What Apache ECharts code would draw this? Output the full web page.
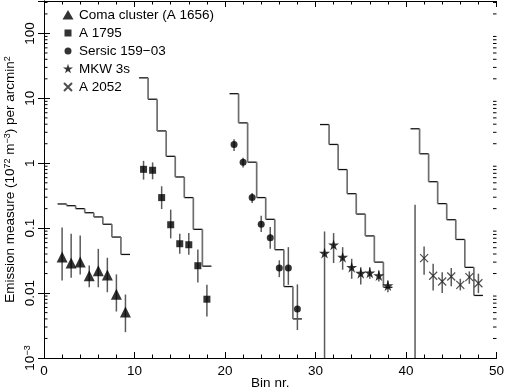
<!DOCTYPE html>
<html>
<head>
<meta charset="utf-8">
<script src="https://cdn.jsdelivr.net/npm/echarts@6/dist/echarts.min.js"></script>
<style>
html, body { margin: 0; padding: 0; background: #fff; }
#chart { width: 505px; height: 389px; }
</style>
</head>
<body>
<div id="chart"></div>
<script>
// values (emission measure, 10^72 m^-3 per arcmin^2)
const comaBins = [2, 3, 4, 5, 6, 7, 8, 9];
const comaVal = [0.036, 0.029, 0.030, 0.0185, 0.022, 0.019, 0.0096, 0.0051];
const comaLo = [0.0156, 0.0172, 0.0194, 0.0123, 0.0123, 0.0103, 0.0052, 0.0025];
const comaHi = [0.102, 0.082, 0.077, 0.0267, 0.048, 0.035, 0.0194, 0.0095];
const comaModel = [0.236, 0.222, 0.200, 0.173, 0.149, 0.115, 0.073, 0.0394];

const a1795Bins = [11, 12, 13, 14, 15, 16, 17, 18];
const a1795Val = [0.807, 0.78, 0.296, 0.113, 0.0576, 0.0556, 0.0264, 0.00805];
const a1795Lo = [0.56, 0.566, 0.197, 0.0696, 0.0404, 0.039, 0.0146, 0.00435];
const a1795Hi = [1.09, 1.03, 0.442, 0.193, 0.082, 0.084, 0.047, 0.0134];
const a1795Model = [20.7, 9.7, 3.15, 1.28, 0.615, 0.296, 0.096, 0.026];

const sersicBins = [21, 22, 23, 24, 25, 26, 27, 28];
const sersicVal = [1.94, 1.04, 0.296, 0.115, 0.0714, 0.0244, 0.0244, 0.0057];
const sersicLo = [1.55, 0.86, 0.244, 0.087, 0.0483, 0.0176, 0.0134, 0.0027];
const sersicHi = [2.35, 1.22, 0.348, 0.156, 0.104, 0.032, 0.051, 0.0136];
const sersicModel = [11.8, 4.19, 1.04, 0.296, 0.137, 0.0466, 0.0126, 0.0040];

const mkwBins = [31, 32, 33, 34, 35, 36, 37, 38];
const mkwVal = [0.0413, 0.0556, 0.0358, 0.0251, 0.0203, 0.0206, 0.0187, 0.0131];
const mkwLo = [0.001, 0.029, 0.0229, 0.0166, 0.0136, 0.0166, 0.0151, 0.0103];
const mkwHi = [0.089, 0.084, 0.051, 0.0338, 0.0251, 0.0251, 0.0222, 0.0156];
const mkwModel = [3.95, 1.95, 0.80, 0.34, 0.165, 0.076, 0.030, 0.0123];

const a2052Bins = [41, 42, 43, 44, 45, 46, 47, 48];
const a2052Val = [null, 0.0346, 0.0185, 0.0151, 0.018, 0.0134, 0.0176, 0.0142];
const a2052Lo = [0.001, 0.0192, 0.011, 0.010, 0.0128, 0.011, 0.0139, 0.010];
const a2052Hi = [0.23, 0.0524, 0.0283, 0.021, 0.0243, 0.0166, 0.0216, 0.0199];
const a2052Model = [3.4, 1.40, 0.52, 0.239, 0.135, 0.067, 0.0249, 0.0092];

const yTickValues = [0.001, 0.01, 0.1, 1, 10, 100];
const yTickLabels = ['{n|10}{sup|−3}', '0.01', '0.1', '1', '10', '100'];

const starPath = 'path://M50,0L61,35L98,35L68,57L79,91L50,70L21,91L32,57L2,35L39,35Z';
const crossPath = 'path://M0,0L10,10M10,0L0,10';

// legend icons: the leading moves pad the 12x12 box so the marks keep their own size
const legendIcons = [
    'path://M0,0M12,12M0.5,10.5L6,1L11.5,10.5Z',
    'path://M0,0M12,12M2.5,2.5L9.5,2.5L9.5,9.5L2.5,9.5Z',
    'path://M0,0M12,12M9.5,6A3.5,3.5,0,1,1,2.5,6A3.5,3.5,0,1,1,9.5,6Z',
    'path://M-8,-8M108,108M50,0L61,35L98,35L68,57L79,91L50,70L21,91L32,57L2,35L39,35Z',
    'path://M0,0M12,12M2,2L10,10M10,2L2,10'
];

const font = 'Liberation Sans';

const chart = echarts.init(document.getElementById('chart'));

function points(bins, vals) {
    const out = [];
    bins.forEach((b, i) => { if (vals[i] != null) out.push([b, vals[i]]); });
    return out;
}
function bars(bins, lo, hi) {
    return bins.map((b, i) => [b, lo[i], hi[i]]);
}
function steps(bins, model) {
    return bins.map((b, i) => [b, model[i], i > 0 ? model[i - 1] : 0]);
}

function renderStep(params, api) {
    const x = api.value(0), v = api.value(1), prev = api.value(2);
    const a = api.coord([x - 0.5, v]);
    const b = api.coord([x + 0.5, v]);
    const kids = [{
        type: 'line',
        shape: { x1: a[0], y1: a[1], x2: b[0], y2: b[1] },
        style: { stroke: '#111', lineWidth: 1.3 }
    }];
    if (prev > 0) {
        const p = api.coord([x - 0.5, prev]);
        kids.push({
            type: 'line',
            shape: { x1: p[0], y1: p[1], x2: a[0], y2: a[1] },
            style: { stroke: '#6e6e6e', lineWidth: 1.7 }
        });
    }
    return { type: 'group', children: kids };
}

function renderBar(params, api) {
    const x = api.value(0);
    const lo = api.coord([x, api.value(1)]);
    const hi = api.coord([x, api.value(2)]);
    return {
        type: 'line',
        shape: { x1: lo[0], y1: lo[1], x2: hi[0], y2: hi[1] },
        style: { stroke: '#5a5a5a', lineWidth: 1.5 }
    };
}

// log minor ticks at 2..9 of every decade, drawn on both side frames
const minorVals = [];
for (let k = -3; k <= 2; k++) {
    for (let m = 2; m <= 9; m++) {
        const v = m * Math.pow(10, k);
        if (v < 316) minorVals.push([v]);
    }
}
function renderMinor(params, api) {
    const v = api.value(0);
    const l = api.coord([0, v]);
    const r = api.coord([50, v]);
    return {
        type: 'group',
        children: [
            { type: 'line', shape: { x1: l[0], y1: l[1], x2: l[0] + 3.5, y2: l[1] }, style: { stroke: '#000', lineWidth: 1 } },
            { type: 'line', shape: { x1: r[0] - 3.5, y1: r[1], x2: r[0], y2: r[1] }, style: { stroke: '#000', lineWidth: 1 } }
        ]
    };
}

const groups = [
    { name: 'Coma cluster (A 1656)', symbol: 'triangle', size: 11, bins: comaBins, val: comaVal, lo: comaLo, hi: comaHi, model: comaModel },
    { name: 'A 1795', symbol: 'rect', size: 7, bins: a1795Bins, val: a1795Val, lo: a1795Lo, hi: a1795Hi, model: a1795Model },
    { name: 'Sersic 159−03', symbol: 'circle', size: 7, bins: sersicBins, val: sersicVal, lo: sersicLo, hi: sersicHi, model: sersicModel },
    { name: 'MKW 3s', symbol: starPath, size: 11, bins: mkwBins, val: mkwVal, lo: mkwLo, hi: mkwHi, model: mkwModel },
    { name: 'A 2052', symbol: crossPath, size: 8, bins: a2052Bins, val: a2052Val, lo: a2052Lo, hi: a2052Hi, model: a2052Model }
];

const series = [{
    type: 'custom',
    renderItem: renderMinor,
    data: minorVals,
    encode: { y: 0 },
    silent: true,
    z: 1
}];

groups.forEach(g => {
    series.push({
        type: 'custom',
        renderItem: renderStep,
        data: steps(g.bins, g.model),
        encode: { x: 0, y: 1 },
        silent: true,
        z: 2
    });
    series.push({
        type: 'custom',
        renderItem: renderBar,
        data: bars(g.bins, g.lo, g.hi),
        encode: { x: 0, y: [1, 2] },
        silent: true,
        z: 3
    });
    const isCross = g.symbol === crossPath;
    series.push({
        name: g.name,
        type: 'scatter',
        symbol: g.symbol,
        symbolSize: g.size,
        data: points(g.bins, g.val),
        itemStyle: isCross
            ? { color: 'rgba(0,0,0,0)', borderColor: '#222', borderWidth: 1.2 }
            : { color: '#000' },
        z: 4
    });
});

const option = {
    animation: false,
    backgroundColor: '#fff',
    textStyle: { fontFamily: font },
    grid: { left: 44, right: 8.5, top: 1, bottom: 31, outerBoundsMode: 'none' },
    legend: {
        data: groups.map((g, i) => ({ name: g.name, icon: legendIcons[i] })),
        orient: 'vertical',
        left: 61,
        top: 8,
        padding: 0,
        itemWidth: 12,
        itemHeight: 12,
        itemGap: 4,
        selectedMode: false,
        textStyle: { fontFamily: font, fontSize: 13.5, color: '#000', lineHeight: 14 }
    },
    xAxis: [{
        type: 'value',
        min: 0,
        max: 50,
        interval: 10,
        name: 'Bin nr.',
        nameLocation: 'middle',
        nameGap: 18,
        nameMoveOverlap: false,
        nameTextStyle: { fontFamily: font, fontSize: 13.5, color: '#000' },
        axisLine: { lineStyle: { color: '#000', width: 1 } },
        axisTick: { inside: true, length: 6, lineStyle: { color: '#000' } },
        minorTick: { show: true, splitNumber: 5, length: 3.5, lineStyle: { color: '#000' } },
        splitLine: { show: false },
        axisLabel: { fontFamily: font, fontSize: 13.5, color: '#000', margin: 6 }
    }, {
        type: 'value',
        position: 'top',
        min: 0,
        max: 50,
        interval: 10,
        axisLine: { lineStyle: { color: '#000', width: 1 } },
        axisTick: { inside: true, length: 6, lineStyle: { color: '#000' } },
        minorTick: { show: true, splitNumber: 5, length: 3.5, lineStyle: { color: '#000' } },
        splitLine: { show: false },
        axisLabel: { show: false }
    }],
    yAxis: [{
        type: 'log',
        logBase: 10,
        min: 0.001,
        max: 316.2,
        name: 'Emission measure (10{sup|72} m{sup|−3}) per arcmin{sup|2}',
        nameLocation: 'middle',
        nameGap: 27,
        nameMoveOverlap: false,
        nameTextStyle: {
            fontFamily: font, fontSize: 13.5, color: '#000',
            rich: { sup: { fontFamily: font, fontSize: 9, verticalAlign: 'top', color: '#000' } }
        },
        axisLine: { lineStyle: { color: '#000', width: 1 } },
        axisTick: { inside: true, length: 6, lineStyle: { color: '#000' } },
        splitLine: { show: false },
        axisLabel: {
            rotate: 90,
            margin: 7,
            showMaxLabel: false,
            fontFamily: font, fontSize: 13.5, color: '#000',
            formatter: v => {
                const i = yTickValues.findIndex(t => Math.abs(Math.log10(t) - Math.log10(v)) < 1e-6);
                return i < 0 ? '' : yTickLabels[i];
            },
            rich: {
                n: { fontFamily: font, fontSize: 13.5, color: '#000' },
                sup: { fontFamily: font, fontSize: 9, verticalAlign: 'top', color: '#000' }
            }
        }
    }, {
        type: 'log',
        logBase: 10,
        position: 'right',
        min: 0.001,
        max: 316.2,
        axisLine: { lineStyle: { color: '#000', width: 1 } },
        axisTick: { inside: true, length: 6, lineStyle: { color: '#000' } },
        splitLine: { show: false },
        axisLabel: { show: false }
    }],
    series: series
};

chart.setOption(option);
window.addEventListener('resize', function () {
    chart.resize();
});
</script>
</body>
</html>
